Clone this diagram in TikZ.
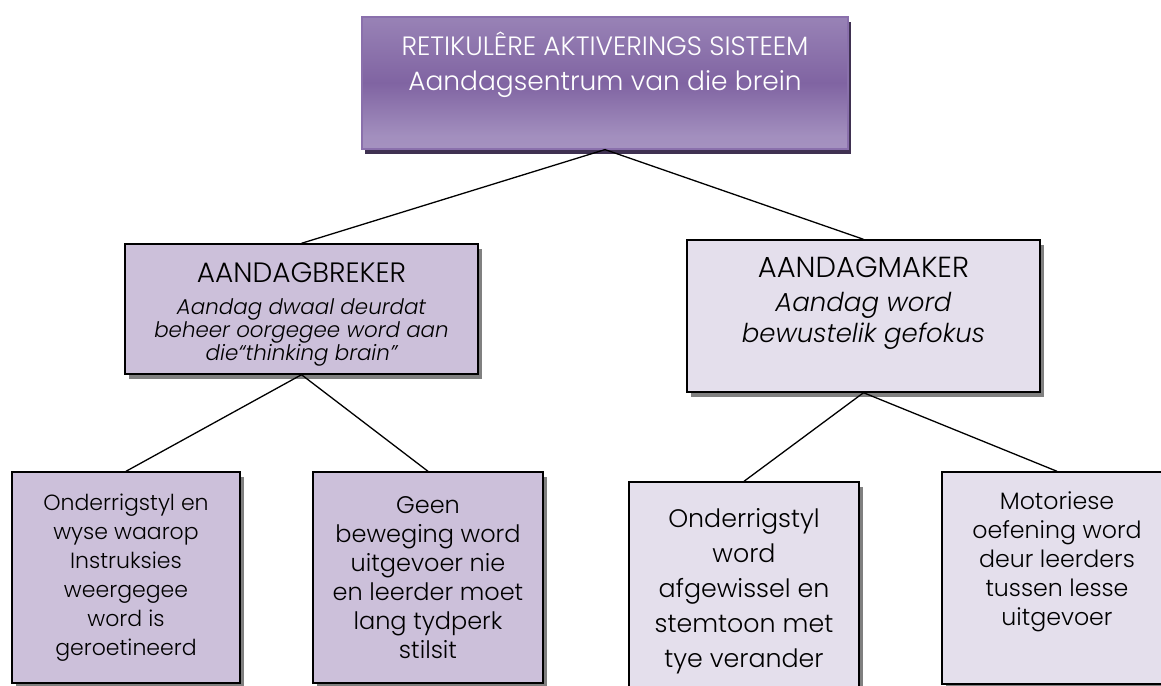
\documentclass[tikz,border=0pt]{standalone}
\usepackage{fontspec}
\IfFontExistsTF{Poppins Light Italic}
  {\setmainfont{Poppins}[UprightFont=* Light, ItalicFont=* Light Italic]}
  {\setmainfont{Poppins}}
\usetikzlibrary{shadows}
\definecolor{toplight}{HTML}{B1A1CA}
\definecolor{topdark}{HTML}{8064A2}
\definecolor{topedge}{HTML}{8A70AC}
\definecolor{topshadow}{HTML}{3F3151}
\definecolor{fillmid}{HTML}{CCC0DA}
\definecolor{filllight}{HTML}{E4DFEC}
\pgfdeclareverticalshading{topgrad}{100bp}{color(0bp)=(toplight); color(30bp)=(toplight!70!topdark); color(50bp)=(topdark); color(75bp)=(toplight!50!topdark); color(100bp)=(toplight)}
\tikzset{
  box/.style={draw=black, line width=1.4pt, inner sep=0pt, align=center, text=black,
    drop shadow={shadow xshift=4pt, shadow yshift=-5pt, fill=black!50, opacity=1}},
  topbox/.style={draw=topedge, line width=1.2pt, inner sep=0pt, align=center, text=white,
    shading=topgrad,
    drop shadow={shadow xshift=3pt, shadow yshift=-5pt, fill=topshadow, opacity=1}},
  link/.style={draw=black, line width=1.3pt}
}
\begin{document}
\begin{tikzpicture}[x=1pt,y=-1pt]
\useasboundingbox (0,0) rectangle (1161,685);
\node[topbox, minimum width=486pt, minimum height=132pt,
  font=\fontsize{26.5}{35}\selectfont] (top) at (605,83)
  {RETIKULÊRE AKTIVERINGS SISTEEM\\Aandagsentrum van die brein\\[8pt]\mbox{}};
\node[box, fill=fillmid, minimum width=353pt, minimum height=130pt,
  font=\fontsize{21.4}{23}\selectfont] (lmid) at (301.5,309)
  {\fontsize{28}{23}\selectfont AANDAGBREKER\\[9pt]
   \itshape Aandag dwaal deurdat\\\itshape beheer oorgegee word aan\\\itshape die“thinking brain”\\[-28pt]\mbox{}};
\node[box, fill=filllight, minimum width=353pt, minimum height=152pt,
  font=\fontsize{26}{31}\selectfont] (rmid) at (863.5,316)
  {\fontsize{29}{31}\selectfont AANDAGMAKER\\[3pt]
   \itshape Aandag word\\\itshape bewustelik gefokus\\[2pt]\mbox{}};
\node[box, fill=fillmid, minimum width=228pt, minimum height=211pt,
  font=\fontsize{22}{29}\selectfont] (b1) at (126,577.5)
  {Onderrigstyl en\\wyse waarop\\Instruksies\\weergegee\\word is\\geroetineerd};
\node[box, fill=fillmid, minimum width=230pt, minimum height=211pt,
  font=\fontsize{24}{29}\selectfont] (b2) at (428,577.5)
  {Geen\\beweging word\\uitgevoer nie\\en leerder moet\\lang tydperk\\stilsit};
\node[box, fill=filllight, minimum width=230pt, minimum height=218pt,
  font=\fontsize{25.3}{35}\selectfont] (b3) at (744,591)
  {Onderrigstyl\\word\\afgewissel en\\stemtoon met\\tye verander};
\node[box, fill=filllight, minimum width=230pt, minimum height=212pt,
  font=\fontsize{23.7}{29}\selectfont] (b4) at (1057,578)
  {Motoriese\\oefening word\\deur leerders\\tussen lesse\\uitgevoer\\[10pt]\mbox{}};
\draw[link] (top.south) -- (lmid.north);
\draw[link] (top.south) -- (rmid.north);
\draw[link] (lmid.south) -- (b1.north);
\draw[link] (lmid.south) -- (b2.north);
\draw[link] (rmid.south) -- (b3.north);
\draw[link] (rmid.south) -- (b4.north);
\end{tikzpicture}
\end{document}
